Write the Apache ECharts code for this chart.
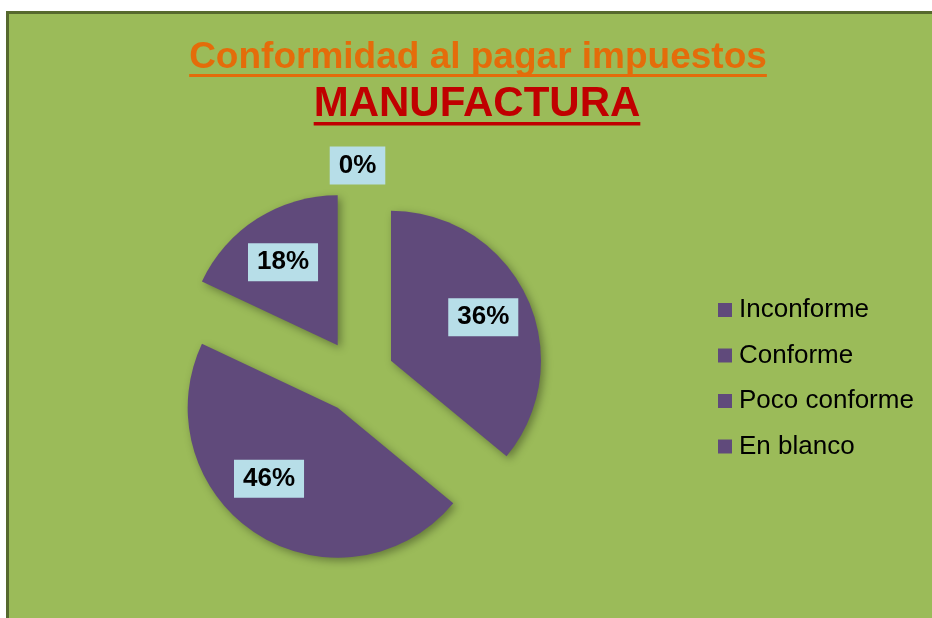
<!DOCTYPE html>
<html>
<head>
<meta charset="utf-8">
<script src="https://cdn.jsdelivr.net/npm/echarts@6/dist/echarts.min.js"></script>
<style>
  html, body { margin: 0; padding: 0; background: #fff; }
  #main { width: 932px; height: 618px; }
</style>
</head>
<body>
<div id="main"></div>
<script>
const titleText = 'Conformidad al pagar impuestos'
const subTitleText = 'MANUFACTURA'
const categories = ['Inconforme', 'Conforme', 'Poco conforme', 'En blanco']
const percents = [36, 46, 18, 0]

const purple = '#604A7B'
const fontBase = '"Liberation Sans", Arial, sans-serif'
const titleFont = 'bold 37px ' + fontBase
const subTitleFont = 'bold 42px ' + fontBase

// measure text so the underline fits the title
const measure = (txt, font) => {
  const ctx = document.createElement('canvas').getContext('2d')
  ctx.font = font
  return ctx.measureText(txt).width
}
const titleW = measure(titleText, titleFont)
const subW = measure(subTitleText, subTitleFont)

const pieCenter = [357.5, 376.5]
const explode = 37

const pieData = categories.map((name, i) => ({ name: name, value: percents[i], selected: true }))

// nudge labels the way Excel placed them
const labelNudge = (params) => {
  const v = percents[params.dataIndex]
  if (v === 0) return { dy: -72 }
  if (v === 46) return { dx: -14, dy: -15 }
  if (v === 18) return { dy: 3 }
  return {}
}

const chartDom = document.getElementById('main')
const myChart = echarts.init(chartDom)
const option = {
  backgroundColor: '#ffffff',
  animation: false,
  color: [purple],
  graphic: [
    {
      type: 'rect', z: -10,
      shape: { x: 7.5, y: 12.5, width: 940, height: 620 },
      style: { fill: '#9BBB59', stroke: '#56692E', lineWidth: 3 }
    },
    {
      type: 'text', x: 478, y: 58,
      style: { text: titleText, font: titleFont, fill: '#E46C0A', align: 'center', verticalAlign: 'middle' }
    },
    {
      type: 'rect',
      shape: { x: 478 - titleW / 2, y: 74, width: titleW, height: 3 },
      style: { fill: '#E46C0A' }
    },
    {
      type: 'text', x: 477, y: 104,
      style: { text: subTitleText, font: subTitleFont, fill: '#C00000', align: 'center', verticalAlign: 'middle' }
    },
    {
      type: 'rect',
      shape: { x: 477 - subW / 2, y: 122, width: subW, height: 3.5 },
      style: { fill: '#C00000' }
    }
  ],
  legend: {
    orient: 'vertical',
    left: 718,
    top: 297,
    padding: 0,
    icon: 'rect',
    itemWidth: 14,
    itemHeight: 14,
    itemGap: 19.5,
    data: categories,
    selectedMode: false,
    textStyle: { fontFamily: fontBase, fontSize: 26, color: '#000', padding: [0, 0, 0, 2] }
  },
  series: [
    {
      name: 'slices',
      type: 'pie',
      center: pieCenter,
      radius: 150,
      startAngle: 90,
      selectedMode: 'multiple',
      selectedOffset: explode,
      silent: true,
      label: { show: false },
      labelLine: { show: false },
      itemStyle: {
        color: purple,
        shadowBlur: 8,
        shadowOffsetX: 3,
        shadowOffsetY: 3,
        shadowColor: 'rgba(0,0,0,0.35)'
      },
      data: pieData
    },
    {
      name: 'labels',
      type: 'pie',
      center: pieCenter,
      radius: [48, 150],
      startAngle: 90,
      selectedMode: 'multiple',
      selectedOffset: explode,
      silent: true,
      itemStyle: { color: 'rgba(0,0,0,0)' },
      labelLine: { show: false },
      labelLayout: labelNudge,
      label: {
        show: true,
        position: 'inside',
        formatter: '{c}%',
        fontFamily: fontBase,
        fontWeight: 'bold',
        fontSize: 26,
        lineHeight: 26,
        color: '#000',
        backgroundColor: '#B7DEE8',
        padding: [6, 9]
      },
      data: pieData
    }
  ]
}
option && myChart.setOption(option)
</script>
</body>
</html>
